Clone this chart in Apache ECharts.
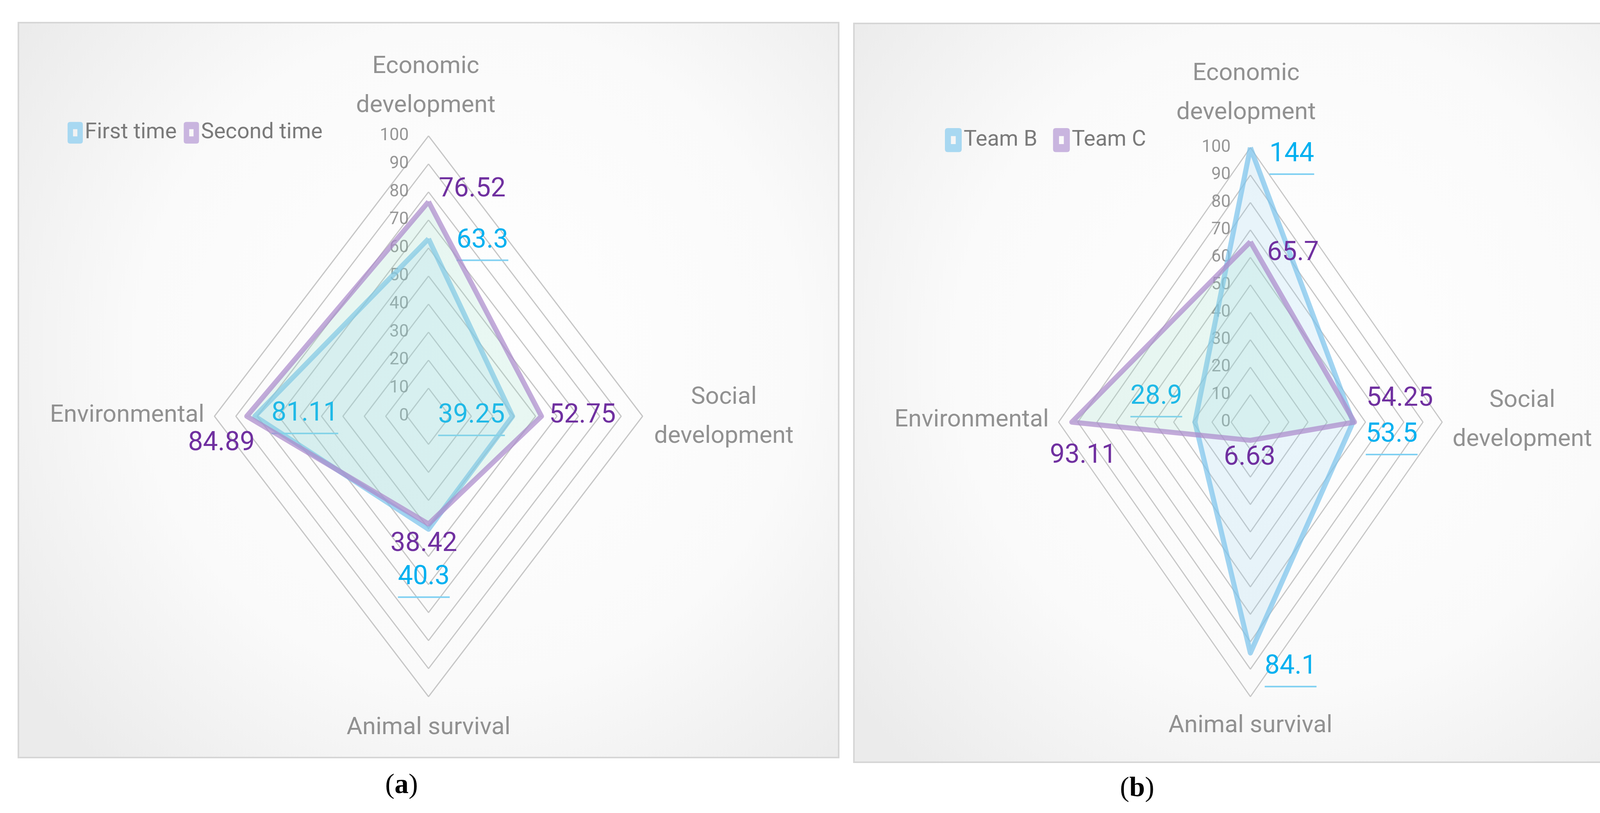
<!DOCTYPE html>
<html>
<head>
<meta charset="utf-8">
<script src="https://cdn.jsdelivr.net/npm/echarts@6/dist/echarts.min.js"></script>
<style>
html,body{margin:0;padding:0;background:#ffffff;overflow:hidden;}
#chart{width:4264px;height:2082px;}
</style>
</head>
<body>
<div id="chart"></div>
<script>
// ---------------- data ----------------
const categories = ['Economic\ndevelopment', 'Social\ndevelopment', 'Animal survival', 'Environmental'];
const tickValues = [0, 10, 20, 30, 40, 50, 60, 70, 80, 90, 100];
const namesA = ['First time', 'Second time'];
const firstTime = [63.3, 39.25, 40.3, 81.11];
const secondTime = [76.52, 52.75, 38.42, 84.89];
const namesB = ['Team B', 'Team C'];
const teamB = [144, 53.5, 84.1, 28.9];
const teamC = [65.7, 54.25, 6.63, 93.11];

// ---------------- style / layout ----------------
const FONT = "Roboto, 'Liberation Sans', sans-serif";
const AXIS_MAX = tickValues[tickValues.length - 1];
const DIRS = [[0, 1], [1, 0], [0, -1], [-1, 0]]; // top, right, bottom, left spokes
const BLUE_TXT = '#00b0f0', PURPLE_TXT = '#7030a0';
const BLUE_LINE = 'rgba(125,196,235,0.72)', PURPLE_LINE = 'rgba(172,138,204,0.72)';
const BLUE_FILL = 'rgba(150,210,240,0.28)', MINT_FILL = 'rgba(150,220,200,0.30)';
const ICON = 'path://M7,0H35Q42,0 42,7V53Q42,60 35,60H7Q0,60 0,53V7Q0,0 7,0ZM15,20V40H27V20Z';

const panels = [
  {
    grid: {left: 549, top: 348, width: 1096, height: 1436},
    frame: {x: 47, y: 58, w: 2100, h: 1882},
    caption: {x: 1028, y: 2012, letter: 'a'},
    legend: {left: 168, top: 307, itemGap: 18, itemWidth: 39, itemHeight: 56},
    names: namesA,
    values: [firstTime, secondTime],
    underline: [true, false],
    labelOffsets: [
      [[138, 7], [-105, 1], [-12, 126], [128, -4]],
      [[112, -31], [105, -1], [-12, 52], [-65, 70]]
    ],
    nameOffsets: [[-7, -127], [208, 2], [0, 80], [-26, -2]]
  },
  {
    grid: {left: 2710, top: 378, width: 982, height: 1406},
    frame: {x: 2186, y: 60, w: 2026, h: 1892},
    caption: {x: 2911, y: 2020, letter: 'b'},
    legend: {left: 2414, top: 323, itemGap: 40, itemWidth: 43, itemHeight: 62},
    names: namesB,
    values: [teamB, teamC],
    underline: [true, false],
    labelOffsets: [
      [[106, 20], [99, 35], [103, 38], [-99, -62]],
      [[109, 30], [116, -59], [-2, 45], [29, 87]]
    ],
    nameOffsets: [[-11, -139], [205, -5], [0, 75], [-25, -5]]
  }
];
const nameAlign = ['center', 'center', 'center', 'right'];

function toPoint(v, k) {
  const r = Math.min(v, AXIS_MAX);
  return [DIRS[k][0] * r, DIRS[k][1] * r];
}

const grids = [], xAxes = [], yAxes = [], series = [], legends = [], graphics = [];

panels.forEach((p, pi) => {
  grids.push(Object.assign({containLabel: false, outerBoundsMode: 'none'}, p.grid));
  xAxes.push({type: 'value', gridIndex: pi, min: -AXIS_MAX, max: AXIS_MAX, show: false});
  yAxes.push({type: 'value', gridIndex: pi, min: -AXIS_MAX, max: AXIS_MAX, interval: 10, show: false});

  // rings
  tickValues.filter(t => t > 0).forEach(t => {
    series.push({
      type: 'line', xAxisIndex: pi, yAxisIndex: pi, silent: true, clip: false,
      symbol: 'none', z: 1,
      lineStyle: {color: '#c6c6c6', width: 3},
      data: [0, 1, 2, 3, 0].map(k => toPoint(t, k))
    });
  });

  // tick labels along the top spoke
  series.push({
    type: 'scatter', xAxisIndex: pi, yAxisIndex: pi, silent: true, clip: false, z: 2,
    symbolSize: 1, itemStyle: {color: 'rgba(0,0,0,0)'},
    label: {
      show: true, position: 'left', distance: 50, align: 'right', verticalAlign: 'middle',
      fontSize: 44, color: '#7c7c7c', fontFamily: FONT,
      formatter: prm => String(prm.value[1])
    },
    data: tickValues.map(t => toPoint(t, 0))
  });

  // data series
  p.values.forEach((vals, si) => {
    const isBlue = si === 0;
    const txtColor = isBlue ? BLUE_TXT : PURPLE_TXT;
    const data = [0, 1, 2, 3, 0].map((k, idx) => {
      const item = {value: toPoint(vals[k], k)};
      if (idx < 4) {
        const txt = String(vals[k]);
        item.label = {
          show: true,
          offset: p.labelOffsets[si][k],
          formatter: p.underline[si] ? '{v|' + txt + '}\n{u|}' : '{v|' + txt + '}'
        };
      } else {
        item.label = {show: false};
      }
      return item;
    });
    series.push({
      name: p.names[si], type: 'line', xAxisIndex: pi, yAxisIndex: pi,
      silent: true, clip: false, z: 3 + si,
      symbol: 'circle', symbolSize: 2, showSymbol: true,
      itemStyle: {color: isBlue ? BLUE_LINE : PURPLE_LINE},
      lineStyle: {color: isBlue ? BLUE_LINE : PURPLE_LINE, width: 13, join: 'round'},
      areaStyle: {color: isBlue ? BLUE_FILL : MINT_FILL, origin: 'auto'},
      label: {
        show: true, position: 'inside', align: 'center', verticalAlign: 'middle',
        textBorderWidth: 0,
        rich: {
          v: {fontSize: 68, color: txtColor, fontFamily: FONT, lineHeight: 96, align: 'center'},
          u: {width: '100%', height: 4, lineHeight: 4, align: 'left', backgroundColor: '#7fd0f2'}
        }
      },
      data: data
    });
  });

  // category (spoke) names
  series.push({
    type: 'scatter', xAxisIndex: pi, yAxisIndex: pi, silent: true, clip: false, z: 5,
    symbolSize: 1, itemStyle: {color: 'rgba(0,0,0,0)'},
    label: {
      show: true, position: 'inside', verticalAlign: 'middle',
      fontSize: 62, lineHeight: 100, color: '#777777', fontFamily: FONT, textBorderWidth: 0
    },
    data: categories.map((c, k) => ({
      value: toPoint(AXIS_MAX, k),
      label: {formatter: c, offset: p.nameOffsets[k], align: nameAlign[k]}
    }))
  });

  legends.push({
    left: p.legend.left, top: p.legend.top, orient: 'horizontal',
    itemWidth: p.legend.itemWidth, itemHeight: p.legend.itemHeight, itemGap: p.legend.itemGap,
    selectedMode: false,
    textStyle: {fontSize: 56, color: '#7a7a7a', fontFamily: FONT},
    data: [
      {name: p.names[0], icon: ICON, itemStyle: {color: '#a8d8f1', borderWidth: 0}},
      {name: p.names[1], icon: ICON, itemStyle: {color: '#c9b5df', borderWidth: 0}}
    ]
  });

  graphics.push({
    type: 'rect', silent: true, z: -100,
    shape: {x: p.frame.x, y: p.frame.y, width: p.frame.w, height: p.frame.h},
    style: {
      fill: new echarts.graphic.RadialGradient(0.55, 0.45, 0.75, [
        {offset: 0, color: '#ffffff'},
        {offset: 0.6, color: '#fafafa'},
        {offset: 1, color: '#ebebeb'}
      ]),
      stroke: '#d6d6d6', lineWidth: 4
    }
  });
  graphics.push({
    type: 'text', silent: true, x: p.caption.x, y: p.caption.y,
    style: {
      text: '{p|(}{b|' + p.caption.letter + '}{p|)}',
      align: 'center', verticalAlign: 'middle',
      rich: {
        p: {fontSize: 72, fontFamily: "'Liberation Serif', serif", color: '#000'},
        b: {fontSize: 72, fontFamily: "'Liberation Serif', serif", fontWeight: 'bold', color: '#000'}
      }
    }
  });
});

const chart = echarts.init(document.getElementById('chart'), null, {renderer: 'canvas'});
chart.setOption({
  animation: false,
  backgroundColor: '#ffffff',
  textStyle: {fontFamily: FONT},
  grid: grids,
  xAxis: xAxes,
  yAxis: yAxes,
  legend: legends,
  graphic: {elements: graphics},
  series: series
});
</script>
</body>
</html>
